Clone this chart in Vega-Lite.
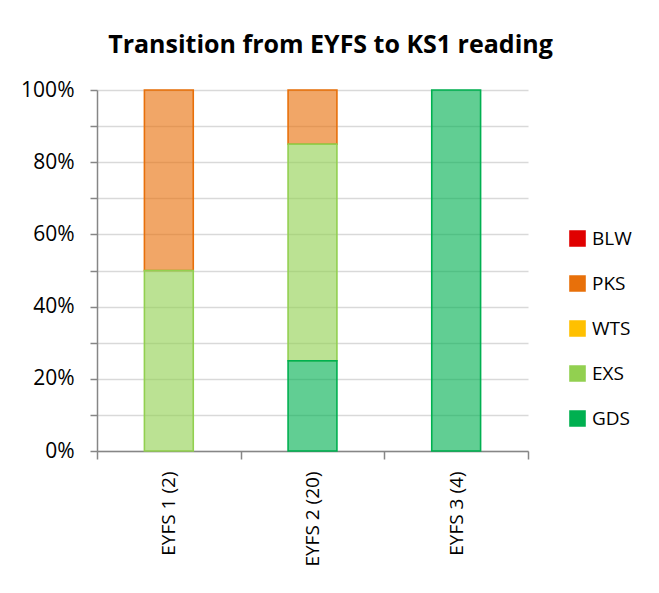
{
  "$schema": "https://vega.github.io/schema/vega-lite/v6.json",
  "width": 431,
  "height": 361,
  "autosize": {"type": "none"},
  "padding": {"left": 97, "top": 90, "right": 131, "bottom": 142},
  "background": "white",
  "title": {
    "text": "Transition from EYFS to KS1 reading",
    "font": "Open Sans",
    "fontSize": 25,
    "fontWeight": "bold",
    "color": "#000000",
    "anchor": "middle",
    "dx": 18,
    "offset": 21
  },
  "config": {
    "view": {"stroke": null},
    "font": "Open Sans"
  },
  "data": {
    "values": [
      {"group": "EYFS 1 (2)", "level": "PKS", "share": 0.5, "rank": 4},
      {"group": "EYFS 1 (2)", "level": "EXS", "share": 0.5, "rank": 2},
      {"group": "EYFS 2 (20)", "level": "PKS", "share": 0.15, "rank": 4},
      {"group": "EYFS 2 (20)", "level": "EXS", "share": 0.6, "rank": 2},
      {"group": "EYFS 2 (20)", "level": "GDS", "share": 0.25, "rank": 1},
      {"group": "EYFS 3 (4)", "level": "GDS", "share": 1.0, "rank": 1}
    ]
  },
  "mark": {"type": "bar", "width": {"band": 0.34}, "fillOpacity": 0.62, "strokeWidth": 1.6},
  "encoding": {
    "x": {
      "field": "group",
      "type": "nominal",
      "sort": null,
      "scale": {"paddingInner": 0, "paddingOuter": 0},
      "axis": {
        "title": null,
        "labelAngle": 270,
        "labelAlign": "right",
        "labelBaseline": "middle",
        "labelFontSize": 19,
        "labelFont": "Open Sans",
        "labelColor": "#000000",
        "labelPadding": 12,
        "tickBand": "extent",
        "tickSize": 8,
        "tickColor": "#868686",
        "domainColor": "#868686",
        "tickWidth": 1.5,
        "domainWidth": 1.5
      }
    },
    "y": {
      "field": "share",
      "type": "quantitative",
      "stack": "zero",
      "scale": {"domain": [0, 1]},
      "axis": {
        "title": null,
        "values": [0, 0.1, 0.2, 0.3, 0.4, 0.5, 0.6, 0.7, 0.8, 0.9, 1],
        "labelExpr": "round(datum.value*10)%2==0 ? format(datum.value,'.0%') : ''",
        "labelFontSize": 21,
        "labelFont": "Open Sans",
        "labelColor": "#000000",
        "labelPadding": 16,
        "tickSize": 7,
        "tickColor": "#868686",
        "domainColor": "#868686",
        "tickWidth": 1.5,
        "domainWidth": 1.5,
        "gridColor": "#D9D9D9",
        "gridWidth": 1.5
      }
    },
    "fill": {
      "field": "level",
      "type": "nominal",
      "scale": {
        "domain": ["BLW", "PKS", "WTS", "EXS", "GDS"],
        "range": ["#E00000", "#E8700A", "#FFC000", "#92D050", "#00B050"]
      },
      "legend": {
        "title": null,
        "orient": "none",
        "legendX": 471,
        "legendY": 139,
        "symbolType": "square",
        "symbolSize": 225,
        "symbolStrokeWidth": 1.6,
        "labelFontSize": 19,
        "labelFont": "Open Sans",
        "labelColor": "#000000",
        "rowPadding": 22,
        "labelOffset": 5
      }
    },
    "stroke": {
      "field": "level",
      "type": "nominal",
      "scale": {
        "domain": ["BLW", "PKS", "WTS", "EXS", "GDS"],
        "range": ["#E00000", "#E8700A", "#FFC000", "#92D050", "#00B050"]
      },
      "legend": {
        "title": null,
        "orient": "none",
        "legendX": 471,
        "legendY": 139,
        "symbolType": "square",
        "symbolSize": 225,
        "symbolStrokeWidth": 1.6,
        "labelFontSize": 19,
        "labelFont": "Open Sans",
        "labelColor": "#000000",
        "rowPadding": 22,
        "labelOffset": 5
      }
    },
    "order": {"field": "rank", "type": "quantitative"}
  }
}
